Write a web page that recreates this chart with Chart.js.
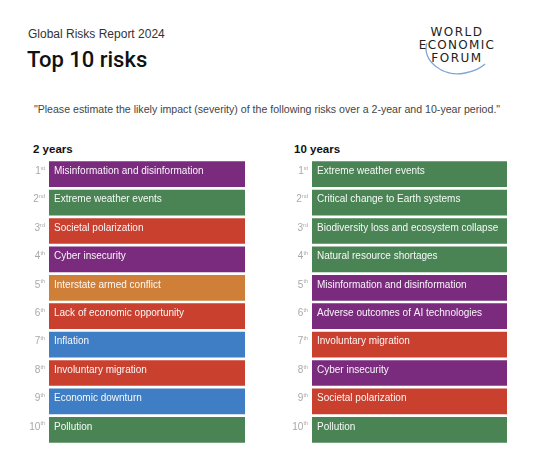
<!DOCTYPE html>
<html>
<head>
<meta charset="utf-8">
<script src="https://cdn.jsdelivr.net/npm/chart.js@4.4.1/dist/chart.umd.min.js"></script>
<style>
  body { margin: 0; background: #fff; font-family: "Liberation Sans", Arial, sans-serif; }
  #page { position: relative; width: 534px; height: 462px; overflow: hidden; }
  .abs { position: absolute; white-space: nowrap; }
  #kicker { left: 28px; top: 27px; font-size: 12px; color: #333; }
  #title { left: 27px; top: 47px; font-size: 22px; color: #111; font-family: Roboto, sans-serif; font-weight: 500; }
  #question { left: 0; width: 534px; top: 103px; text-align: center; font-size: 10.6px; color: #444; }
  .head { top: 143px; font-size: 11.5px; font-weight: bold; color: #111; }
  .box { position: absolute; top: 160px; height: 284px; }
  #logo { left: 405px; top: 10px; }
</style>
</head>
<body>
<div id="page">
  <div id="kicker" class="abs">Global Risks Report 2024</div>
  <div id="title" class="abs">Top 10 risks</div>
  <svg id="logo" class="abs" width="110" height="70" viewBox="0 0 110 70">
    <path d="M 22 33 C 16 50, 38 68, 60 63 C 70 61, 76 58, 80 54" fill="none" stroke="#7fa6d6" stroke-width="1.3"/>
    <text x="52" y="26" text-anchor="middle" font-family="DejaVu Sans, sans-serif" font-size="12" letter-spacing="1.5" fill="#222">WORLD</text>
    <text x="52" y="39" text-anchor="middle" font-family="DejaVu Sans, sans-serif" font-size="12" letter-spacing="1.3" fill="#222">ECONOMIC</text>
    <text x="52" y="52" text-anchor="middle" font-family="DejaVu Sans, sans-serif" font-size="12" letter-spacing="1.5" fill="#222">FORUM</text>
  </svg>
  <div id="question" class="abs">"Please estimate the likely impact (severity) of the following risks over a 2-year and 10-year period."</div>
  <div class="abs head" style="left:33px">2 years</div>
  <div class="abs head" style="left:294px">10 years</div>
  <div class="box" style="left:19px;width:226px"><canvas id="chart2y"></canvas></div>
  <div class="box" style="left:282px;width:225px"><canvas id="chart10y"></canvas></div>
</div>
<script>
// risk rankings
const risks2y = ["Misinformation and disinformation", "Extreme weather events", "Societal polarization", "Cyber insecurity", "Interstate armed conflict", "Lack of economic opportunity", "Inflation", "Involuntary migration", "Economic downturn", "Pollution"];
const cats2y = ["Technological", "Environmental", "Societal", "Technological", "Geopolitical", "Societal", "Economic", "Societal", "Economic", "Environmental"];

const risks10y = ["Extreme weather events", "Critical change to Earth systems", "Biodiversity loss and ecosystem collapse", "Natural resource shortages", "Misinformation and disinformation", "Adverse outcomes of AI technologies", "Involuntary migration", "Cyber insecurity", "Societal polarization", "Pollution"];
const cats10y = ["Environmental", "Environmental", "Environmental", "Environmental", "Technological", "Technological", "Societal", "Technological", "Societal", "Environmental"];

const rankNums = ["1", "2", "3", "4", "5", "6", "7", "8", "9", "10"];
const rankSuffix = ["st", "nd", "rd", "th", "th", "th", "th", "th", "th", "th"];
const barValues = [1, 1, 1, 1, 1, 1, 1, 1, 1, 1];

const catColors = {
  Economic: "#3f7ec4",
  Environmental: "#4a8455",
  Geopolitical: "#d07f38",
  Societal: "#c9402f",
  Technological: "#7a2b7e"
};

const labelsPlugin = {
  id: "riskLabels",
  afterDatasetsDraw(chart) {
    const ctx = chart.ctx;
    const meta = chart.getDatasetMeta(0);
    const left = chart.chartArea.left;
    const names = chart.data.labels;
    ctx.save();
    meta.data.forEach((bar, i) => {
      const top = bar.y - bar.height / 2;
      // risk name inside the bar
      ctx.fillStyle = "rgba(255,255,255,0.95)";
      ctx.font = "10px 'Liberation Sans', Arial, sans-serif";
      ctx.textAlign = "left";
      ctx.textBaseline = "middle";
      ctx.fillText(names[i], left + 5, top + 10);
      // rank with superscript suffix
      ctx.fillStyle = "#a8a8a8";
      ctx.font = "5.5px 'Liberation Sans', Arial, sans-serif";
      const sw = ctx.measureText(rankSuffix[i]).width;
      const xr = left - 4;
      ctx.fillText(rankSuffix[i], xr - sw, top + 7);
      ctx.font = "10px 'Liberation Sans', Arial, sans-serif";
      ctx.textAlign = "right";
      ctx.fillText(rankNums[i], xr - sw, top + 10);
    });
    ctx.restore();
  }
};

function makeChart(id, names, cats) {
  const el = document.getElementById(id).getContext("2d");
  return new Chart(el, {
    type: "bar",
    data: {
      labels: names,
      datasets: [{
        data: barValues,
        backgroundColor: cats.map(c => catColors[c]),
        borderWidth: 0,
        barPercentage: 0.905,
        categoryPercentage: 1
      }]
    },
    options: {
      indexAxis: "y",
      responsive: true,
      maintainAspectRatio: false,
      animation: false,
      layout: { padding: { left: 30 } },
      plugins: { legend: { display: false }, tooltip: { enabled: false } },
      scales: {
        x: { display: false, min: 0, max: 1 },
        y: { display: false }
      }
    },
    plugins: [labelsPlugin]
  });
}

makeChart("chart2y", risks2y, cats2y);
makeChart("chart10y", risks10y, cats10y);
</script>
</body>
</html>
